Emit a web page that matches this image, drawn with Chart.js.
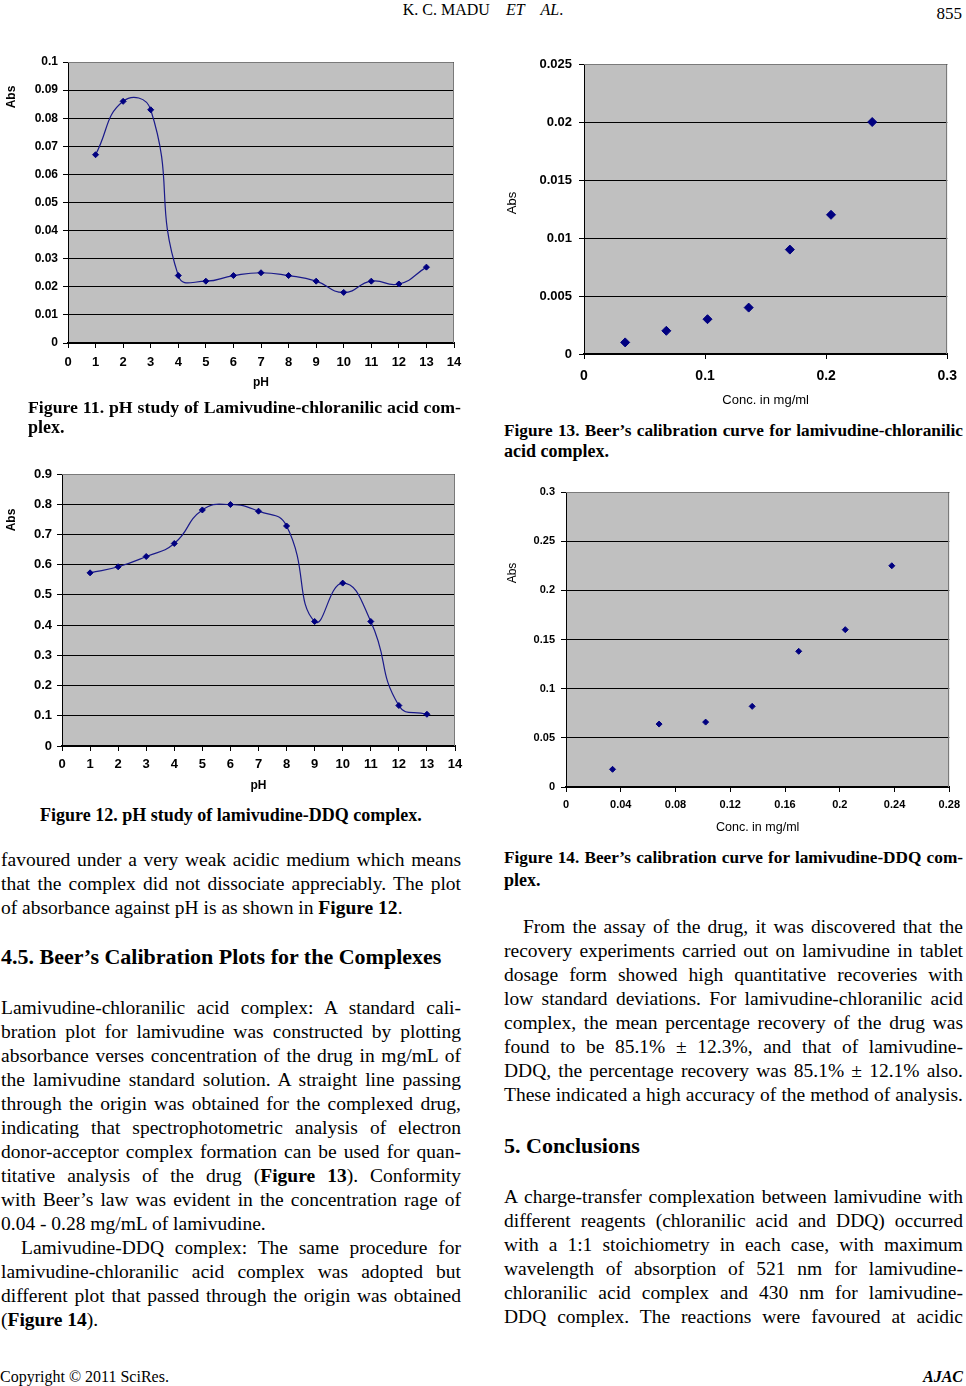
<!DOCTYPE html>
<html>
<head>
<meta charset="utf-8">
<script src="https://cdn.jsdelivr.net/npm/chart.js@4.4.1/dist/chart.umd.min.js"></script>
<style>
  html, body { margin:0; padding:0; }
  body { width:966px; height:1386px; position:relative; background:#fff; overflow:hidden;
         font-family:'Liberation Serif','Times New Roman',serif; color:#000; }
  .t { position:absolute; white-space:nowrap; line-height:24px; font-size:19.5px; }
  .j { text-align:justify; text-align-last:justify; white-space:normal; }
  .cap { font-weight:bold; font-size:18px; }
  .h { font-weight:bold; font-size:22px; }
  canvas { position:absolute; }
</style>
</head>
<body>
<!-- header -->
<div class="t" style="left:0;width:966px;top:-2px;font-size:16px;text-align:center;">K. C. MADU&nbsp;&nbsp;&nbsp;&nbsp;<i>ET</i>&nbsp;&nbsp;&nbsp;&nbsp;<i>AL</i>.</div>
<div class="t" style="right:4px;top:2px;font-size:17px;">855</div>

<canvas id="c11" width="470" height="360" style="left:0;top:40px"></canvas>
<canvas id="c12" width="470" height="345" style="left:0;top:455px"></canvas>
<canvas id="c13" width="476" height="370" style="left:490px;top:45px"></canvas>
<canvas id="c14" width="476" height="370" style="left:490px;top:470px"></canvas>

<!-- left column -->
<div class="t cap j" style="left:28px;width:433px;top:395px;">Figure 11. pH study of Lamivudine-chloranilic acid com-</div>
<div class="t cap" style="left:28px;top:415px;">plex.</div>

<div class="t cap" style="left:40px;top:803px;">Figure 12. pH study of lamivudine-DDQ complex.</div>

<div class="t j" style="left:1px;width:460px;top:848px;">favoured under a very weak acidic medium which means</div>
<div class="t j" style="left:1px;width:460px;top:872px;">that the complex did not dissociate appreciably. The plot</div>
<div class="t" style="left:1px;top:896px;">of absorbance against pH is as shown in <b>Figure 12</b>.</div>

<div class="t h" style="left:1px;top:945px;">4.5. Beer’s Calibration Plots for the Complexes</div>

<div class="t j" style="left:1px;width:460px;top:996px;">Lamivudine-chloranilic acid complex: A standard cali-</div>
<div class="t j" style="left:1px;width:460px;top:1020px;">bration plot for lamivudine was constructed by plotting</div>
<div class="t j" style="left:1px;width:460px;top:1044px;">absorbance verses concentration of the drug in mg/mL of</div>
<div class="t j" style="left:1px;width:460px;top:1068px;">the lamivudine standard solution. A straight line passing</div>
<div class="t j" style="left:1px;width:460px;top:1092px;">through the origin was obtained for the complexed drug,</div>
<div class="t j" style="left:1px;width:460px;top:1116px;">indicating that spectrophotometric analysis of electron</div>
<div class="t j" style="left:1px;width:460px;top:1140px;">donor-acceptor complex formation can be used for quan-</div>
<div class="t j" style="left:1px;width:460px;top:1164px;">titative analysis of the drug (<b>Figure 13</b>). Conformity</div>
<div class="t j" style="left:1px;width:460px;top:1188px;">with Beer’s law was evident in the concentration rage of</div>
<div class="t" style="left:1px;top:1212px;">0.04 - 0.28 mg/mL of lamivudine.</div>
<div class="t j" style="left:21px;width:440px;top:1236px;">Lamivudine-DDQ complex: The same procedure for</div>
<div class="t j" style="left:1px;width:460px;top:1260px;">lamivudine-chloranilic acid complex was adopted but</div>
<div class="t j" style="left:1px;width:460px;top:1284px;">different plot that passed through the origin was obtained</div>
<div class="t" style="left:1px;top:1308px;">(<b>Figure 14</b>).</div>

<!-- right column -->
<div class="t cap j" style="left:504px;width:459px;top:419px;">Figure 13. Beer’s calibration curve for lamivudine-chloranilic</div>
<div class="t cap" style="left:504px;top:439px;">acid complex.</div>

<div class="t cap j" style="left:504px;width:459px;top:846px;">Figure 14. Beer’s calibration curve for lamivudine-DDQ com-</div>
<div class="t cap" style="left:504px;top:868px;">plex.</div>

<div class="t j" style="left:523px;width:440px;top:915px;">From the assay of the drug, it was discovered that the</div>
<div class="t j" style="left:504px;width:459px;top:939px;">recovery experiments carried out on lamivudine in tablet</div>
<div class="t j" style="left:504px;width:459px;top:963px;">dosage form showed high quantitative recoveries with</div>
<div class="t j" style="left:504px;width:459px;top:987px;">low standard deviations. For lamivudine-chloranilic acid</div>
<div class="t j" style="left:504px;width:459px;top:1011px;">complex, the mean percentage recovery of the drug was</div>
<div class="t j" style="left:504px;width:459px;top:1035px;">found to be 85.1% ± 12.3%, and that of lamivudine-</div>
<div class="t j" style="left:504px;width:459px;top:1059px;">DDQ, the percentage recovery was 85.1% ± 12.1% also.</div>
<div class="t j" style="left:504px;width:459px;top:1083px;">These indicated a high accuracy of the method of analysis.</div>

<div class="t h" style="left:504px;top:1134px;">5. Conclusions</div>

<div class="t j" style="left:504px;width:459px;top:1185px;">A charge-transfer complexation between lamivudine with</div>
<div class="t j" style="left:504px;width:459px;top:1209px;">different reagents (chloranilic acid and DDQ) occurred</div>
<div class="t j" style="left:504px;width:459px;top:1233px;">with a 1:1 stoichiometry in each case, with maximum</div>
<div class="t j" style="left:504px;width:459px;top:1257px;">wavelength of absorption of 521 nm for lamivudine-</div>
<div class="t j" style="left:504px;width:459px;top:1281px;">chloranilic acid complex and 430 nm for lamivudine-</div>
<div class="t j" style="left:504px;width:459px;top:1305px;">DDQ complex. The reactions were favoured at acidic</div>

<!-- footer -->
<div class="t" style="left:0;top:1365px;font-size:16px;">Copyright © 2011 SciRes.</div>
<div class="t" style="right:3px;top:1365px;font-size:16px;font-weight:bold;font-style:italic;">AJAC</div>

<script>
// ---------------- data ----------------
const pH = [1, 2, 3, 4, 5, 6, 7, 8, 9, 10, 11, 12, 13];
const absChloranilicPH = [0.067, 0.086, 0.083, 0.024, 0.022, 0.024, 0.025, 0.024, 0.022, 0.018, 0.022, 0.021, 0.027];
const absDDQPH = [0.573, 0.593, 0.627, 0.670, 0.781, 0.799, 0.777, 0.728, 0.412, 0.539, 0.412, 0.134, 0.105];

const conc = [0.034, 0.068, 0.102, 0.136, 0.170, 0.204, 0.238];
const absChloranilicCal = [0.001, 0.002, 0.003, 0.004, 0.009, 0.012, 0.020];
const absDDQCal = [0.018, 0.064, 0.066, 0.082, 0.138, 0.160, 0.225];

const pHTicks = [0, 1, 2, 3, 4, 5, 6, 7, 8, 9, 10, 11, 12, 13, 14];
const pHTickLabels = ['0','1','2','3','4','5','6','7','8','9','10','11','12','13','14'];
const abs11Ticks = [0, 0.01, 0.02, 0.03, 0.04, 0.05, 0.06, 0.07, 0.08, 0.09, 0.1];
const abs11Labels = ['0','0.01','0.02','0.03','0.04','0.05','0.06','0.07','0.08','0.09','0.1'];
const abs12Ticks = [0, 0.1, 0.2, 0.3, 0.4, 0.5, 0.6, 0.7, 0.8, 0.9];
const abs12Labels = ['0','0.1','0.2','0.3','0.4','0.5','0.6','0.7','0.8','0.9'];
const conc13Ticks = [0, 0.1, 0.2, 0.3];
const conc13Labels = ['0','0.1','0.2','0.3'];
const abs13Ticks = [0, 0.005, 0.01, 0.015, 0.02, 0.025];
const abs13Labels = ['0','0.005','0.01','0.015','0.02','0.025'];
const conc14Ticks = [0, 0.04, 0.08, 0.12, 0.16, 0.2, 0.24, 0.28];
const conc14Labels = ['0','0.04','0.08','0.12','0.16','0.2','0.24','0.28'];
const abs14Ticks = [0, 0.05, 0.1, 0.15, 0.2, 0.25, 0.3];
const abs14Labels = ['0','0.05','0.1','0.15','0.2','0.25','0.3'];

const xTitlePH = 'pH';
const xTitleConc = 'Conc. in mg/ml';
const yTitleAbs = 'Abs';

// ---------------- chart helpers ----------------
Chart.defaults.font.family = "'Liberation Sans', Arial, sans-serif";
Chart.defaults.color = '#000';

const framePlugin = {
  id: 'frame',
  beforeDraw(chart) {
    const { ctx, chartArea: a } = chart;
    ctx.save();
    ctx.fillStyle = '#c0c0c0';
    ctx.fillRect(a.left, a.top, a.right - a.left, a.bottom - a.top);
    ctx.restore();
  },
  beforeDatasetsDraw(chart) {
    const { ctx, chartArea: a } = chart;
    ctx.save();
    ctx.strokeStyle = '#7a7a7a';
    ctx.lineWidth = 1;
    ctx.beginPath();
    ctx.moveTo(Math.round(a.left), Math.round(a.top) + 0.5);
    ctx.lineTo(Math.round(a.right) - 0.5, Math.round(a.top) + 0.5);
    ctx.lineTo(Math.round(a.right) - 0.5, Math.round(a.bottom));
    ctx.stroke();
    ctx.restore();
  },
  afterDraw(chart, args, o) {
    if (!o || !o.text) return;
    const { ctx } = chart;
    ctx.save();
    ctx.font = (o.weight || 'normal') + ' ' + o.size + "px 'Liberation Sans', Arial, sans-serif";
    ctx.fillStyle = '#000';
    ctx.translate(o.x, o.y);
    ctx.rotate(-Math.PI / 2);
    ctx.textAlign = 'center';
    ctx.textBaseline = 'middle';
    ctx.fillText(o.text, 0, 0);
    ctx.restore();
  }
};

function makeChart(id, s) {
  const points = s.xs.map((x, i) => ({ x: x, y: s.ys[i] }));
  return new Chart(document.getElementById(id), {
    type: s.line ? 'line' : 'scatter',
    data: {
      datasets: [{
        data: points,
        showLine: !!s.line,
        borderColor: '#1a1a8a',
        backgroundColor: '#000080',
        borderWidth: s.line ? 1.2 : 1,
        tension: s.line ? 0.5 : 0,
        pointStyle: 'rectRot',
        pointRadius: s.r,
        pointBackgroundColor: '#000080',
        pointBorderColor: '#000080',
        pointBorderWidth: 1,
        fill: false
      }]
    },
    options: {
      responsive: false,
      animation: false,
      events: [],
      layout: { padding: { top: s.padT, right: s.padR, left: 0, bottom: 0 } },
      plugins: {
        legend: { display: false },
        tooltip: { enabled: false },
        frame: { text: yTitleAbs, x: s.yt[0], y: s.yt[1], size: s.ytSize, weight: s.ytWeight }
      },
      scales: {
        x: {
          type: 'linear',
          min: s.xTicks[0], max: s.xTicks[s.xTicks.length - 1],
          afterBuildTicks: ax => { ax.ticks = s.xTicks.map(v => ({ value: v })); },
          afterFit: ax => { ax.height = s.Hx; },
          grid: { drawOnChartArea: false, drawTicks: true, tickLength: 5, color: '#000', lineWidth: 1 },
          border: { display: true, color: '#000', width: 2 },
          ticks: {
            autoSkip: false, maxRotation: 0, padding: s.xPad,
            font: { size: s.xFont, weight: s.xWeight },
            callback: (v, i) => s.xLabels[i]
          },
          title: {
            display: true, text: s.xTitle,
            font: { size: s.xtSize, weight: s.xtWeight },
            padding: { top: 0, bottom: s.xtPad }
          }
        },
        y: {
          type: 'linear',
          min: s.yTicks[0], max: s.yTicks[s.yTicks.length - 1],
          afterBuildTicks: ax => { ax.ticks = s.yTicks.map(v => ({ value: v })); },
          afterFit: ax => { ax.width = s.Wy; },
          grid: { drawOnChartArea: true, drawTicks: true, tickLength: 5, color: '#000', lineWidth: 1 },
          border: { display: true, color: '#000', width: 1 },
          ticks: {
            autoSkip: false, padding: s.yPad,
            font: { size: s.yFont, weight: s.yWeight },
            callback: (v, i) => s.yLabels[i]
          }
        }
      }
    },
    plugins: [framePlugin]
  });
}

makeChart('c11', {
  line: true, r: 3, xs: pH, ys: absChloranilicPH,
  xTicks: pHTicks, xLabels: pHTickLabels, yTicks: abs11Ticks, yLabels: abs11Labels,
  padT: 22, padR: 16, Wy: 68, Hx: 57,
  xPad: 7, xFont: 13, xWeight: 'bold', yPad: 5, yFont: 12, yWeight: 'bold',
  xTitle: xTitlePH, xtSize: 12, xtWeight: 'bold', xtPad: 10,
  yt: [12, 57], ytSize: 12, ytWeight: 'bold'
});

makeChart('c12', {
  line: true, r: 3, xs: pH, ys: absDDQPH,
  xTicks: pHTicks, xLabels: pHTickLabels, yTicks: abs12Ticks, yLabels: abs12Labels,
  padT: 19, padR: 15, Wy: 62, Hx: 54,
  xPad: 6, xFont: 13, xWeight: 'bold', yPad: 5, yFont: 13, yWeight: 'bold',
  xTitle: xTitlePH, xtSize: 12, xtWeight: 'bold', xtPad: 7,
  yt: [12, 65], ytSize: 12, ytWeight: 'bold'
});

makeChart('c13', {
  line: false, r: 4.5, xs: conc, ys: absChloranilicCal,
  xTicks: conc13Ticks, xLabels: conc13Labels, yTicks: abs13Ticks, yLabels: abs13Labels,
  padT: 19, padR: 12, Wy: 94, Hx: 61,
  xPad: 9, xFont: 14, xWeight: 'bold', yPad: 7, yFont: 13, yWeight: 'bold',
  xTitle: xTitleConc, xtSize: 13, xtWeight: 'normal', xtPad: 7,
  yt: [22, 158], ytSize: 13, ytWeight: 'normal'
});

makeChart('c14', {
  line: false, r: 3, xs: conc, ys: absDDQCal,
  xTicks: conc14Ticks, xLabels: conc14Labels, yTicks: abs14Ticks, yLabels: abs14Labels,
  padT: 22, padR: 12, Wy: 76, Hx: 53,
  xPad: 6, xFont: 11, xWeight: 'bold', yPad: 6, yFont: 11, yWeight: 'bold',
  xTitle: xTitleConc, xtSize: 12.5, xtWeight: 'normal', xtPad: 4.5,
  yt: [23, 103], ytSize: 12, ytWeight: 'normal'
});

// ---------------- fit justified lines so none wraps ----------------
document.querySelectorAll('.t.j').forEach(el => {
  const w = parseFloat(el.style.width);
  el.innerHTML = '<span>' + el.innerHTML + '</span>';
  const sp = el.firstChild;
  el.classList.remove('j');
  let fs = parseFloat(getComputedStyle(el).fontSize);
  let guard = 0;
  while (sp.getBoundingClientRect().width > w - 1 && guard++ < 40) {
    fs -= 0.25;
    el.style.fontSize = fs + 'px';
  }
  el.classList.add('j');
});
</script>
</body>
</html>
